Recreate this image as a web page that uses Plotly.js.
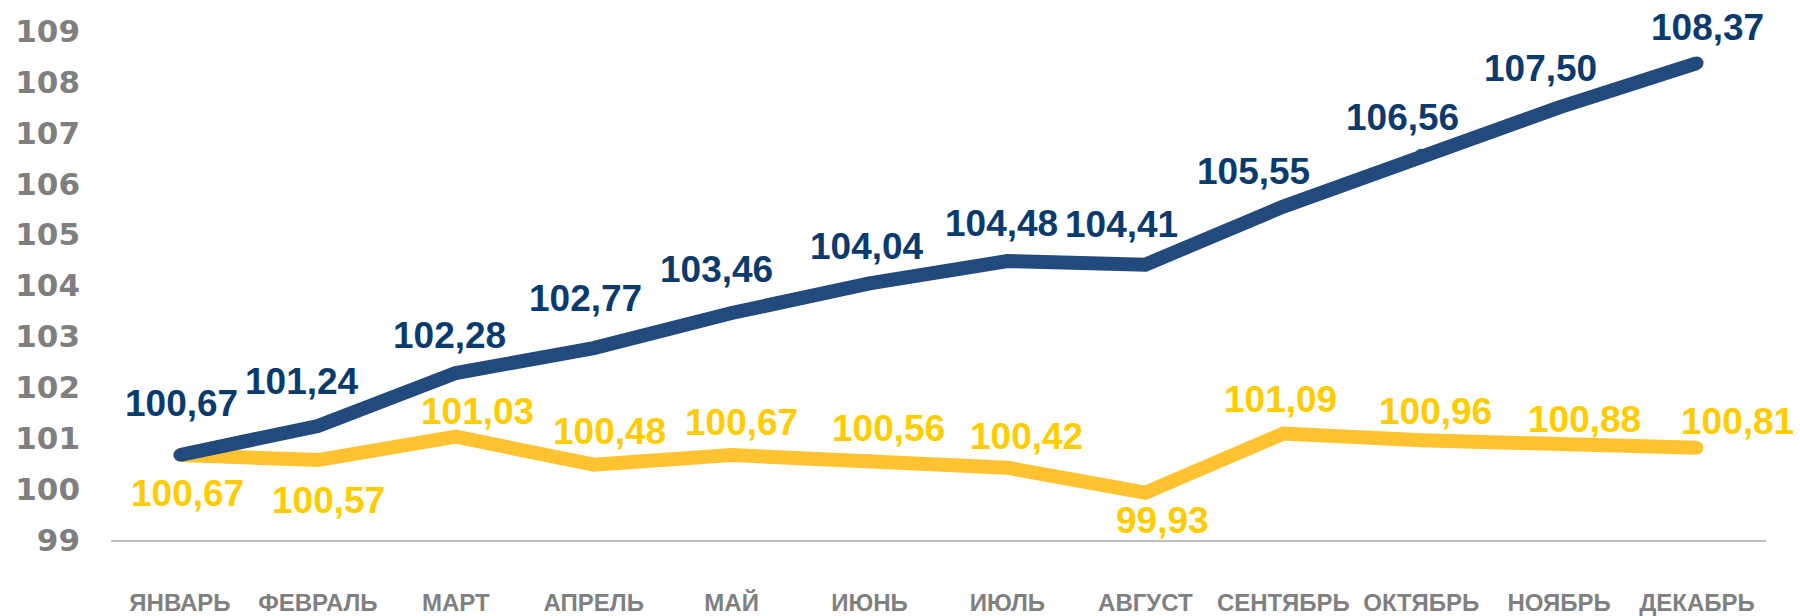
<!DOCTYPE html>
<html>
<head>
<meta charset="utf-8">
<script src="https://cdn.plot.ly/plotly-3.0.1.min.js"></script>
<style>
html,body{margin:0;padding:0;background:#fff;}
#chart{width:1800px;height:616px;}
</style>
</head>
<body>
<div id="chart"></div>
<script>
const months = ['ЯНВАРЬ','ФЕВРАЛЬ','МАРТ','АПРЕЛЬ','МАЙ','ИЮНЬ','ИЮЛЬ','АВГУСТ','СЕНТЯБРЬ','ОКТЯБРЬ','НОЯБРЬ','ДЕКАБРЬ'];
const cumulative = [100.67,101.24,102.28,102.77,103.46,104.04,104.48,104.41,105.55,106.56,107.50,108.37];
const monthly = [100.67,100.57,101.03,100.48,100.67,100.56,100.42,99.93,101.09,100.96,100.88,100.81];
const yTicks = [99,100,101,102,103,104,105,106,107,108,109];

// label placement offsets (pixels: [dx, dy] of label centre from its point)
const cumOffsets = [[2,-52],[-16,-44],[-6,-38],[-8,-50],[-15,-43],[-3,-37],[-6,-38],[-24,-40],[-30,-35],[-19,-38],[-19,-39],[10,-36]];
const monOffsets = [[8,38],[11,40],[22,-25],[16,-33],[10,-33],[19,-32],[19,-31],[17,28],[-3,-34],[14,-29],[25,-25],[40,-26]];

const DARK_LINE = '#234A7C';
const DARK_TEXT = '#0B3A6C';
const YEL_LINE = '#FFC331';
const YEL_TEXT = '#FFCC00';

const fmt = v => v.toFixed(2).replace('.', ',');

const traces = [
  {
    x: months, y: monthly, type: 'scatter', mode: 'lines+markers',
    line: {color: YEL_LINE, width: 14},
    marker: {color: YEL_LINE, size: 13},
    hoverinfo: 'skip', showlegend: false
  },
  {
    x: months, y: cumulative, type: 'scatter', mode: 'lines+markers',
    line: {color: DARK_LINE, width: 14},
    marker: {color: DARK_LINE, size: 13},
    hoverinfo: 'skip', showlegend: false
  }
];

const labelFont = (c) => ({family: '"Liberation Sans", Arial, sans-serif', size: 37, color: c, weight: 'bold'});
const annotations = [];
months.forEach((m, i) => {
  annotations.push({
    x: m, y: monthly[i], xref: 'x', yref: 'y', text: '<b>' + fmt(monthly[i]) + '</b>',
    showarrow: false, xanchor: 'center', yanchor: 'middle',
    xshift: monOffsets[i][0], yshift: -monOffsets[i][1], font: labelFont(YEL_TEXT)
  });
  annotations.push({
    x: m, y: cumulative[i], xref: 'x', yref: 'y', text: '<b>' + fmt(cumulative[i]) + '</b>',
    showarrow: false, xanchor: 'center', yanchor: 'middle',
    xshift: cumOffsets[i][0], yshift: -cumOffsets[i][1], font: labelFont(DARK_TEXT)
  });
});

const layout = {
  width: 1800, height: 616,
  margin: {l: 111, r: 34, t: 31, b: 76},
  paper_bgcolor: '#ffffff', plot_bgcolor: '#ffffff',
  showlegend: false, hovermode: false,
  xaxis: {
    type: 'category', range: [-0.5, 11.5], fixedrange: true,
    showgrid: false, zeroline: false, showline: true, linecolor: '#BFBFBF', linewidth: 2,
    ticks: '', ticklabelstandoff: 40,
    tickfont: {family: '"Liberation Sans", Arial, sans-serif', size: 24, color: '#808080', weight: 'bold'}
  },
  yaxis: {
    range: [99, 109], fixedrange: true,
    tickmode: 'array', tickvals: yTicks, ticktext: yTicks.map(String),
    showgrid: false, zeroline: false, showline: false, ticks: '',
    ticklabelstandoff: 30,
    tickfont: {family: '"DejaVu Sans", sans-serif', size: 31, color: '#7F7F7F', weight: 'bold'}
  },
  annotations: annotations
};

Plotly.newPlot('chart', traces, layout, {displayModeBar: false, staticPlot: true});
</script>
</body>
</html>
